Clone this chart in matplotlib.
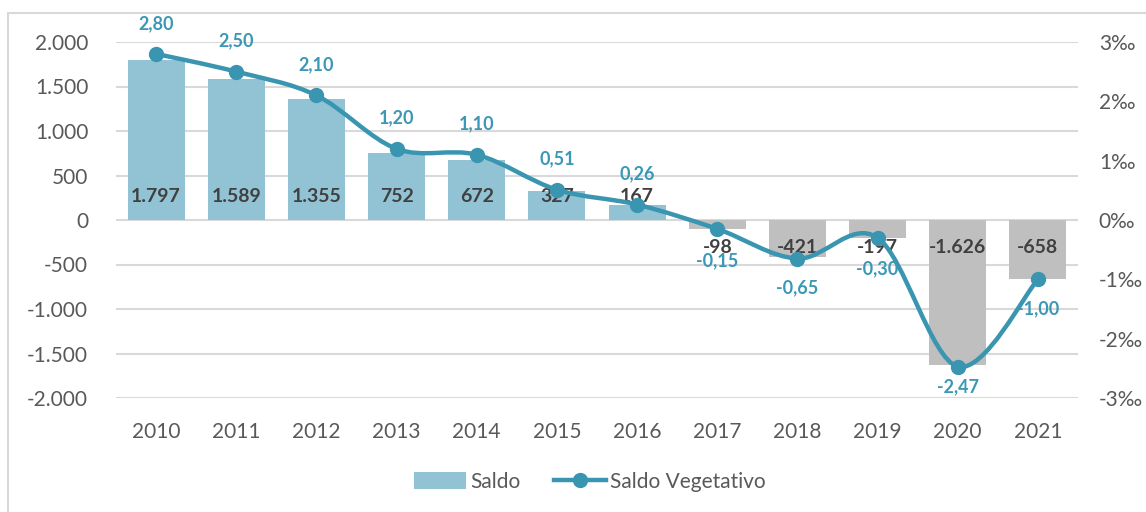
import matplotlib
matplotlib.use("Agg")
import matplotlib.pyplot as plt
import numpy as np
from matplotlib.path import Path
from matplotlib.patches import PathPatch, Rectangle
from matplotlib.lines import Line2D
from matplotlib.patches import Patch

plt.rcParams['font.family'] = ['Lato', 'DejaVu Sans']

years = ['2010', '2011', '2012', '2013', '2014', '2015', '2016',
         '2017', '2018', '2019', '2020', '2021']
saldo = [1797, 1589, 1355, 752, 672, 327, 167, -98, -421, -197, -1626, -658]
saldo_labels = ['1.797', '1.589', '1.355', '752', '672', '327', '167',
                '-98', '-421', '-197', '-1.626', '-658']
veget = [2.80, 2.50, 2.10, 1.20, 1.10, 0.51, 0.26, -0.15, -0.65, -0.30, -2.47, -1.00]
veget_labels = ['2,80', '2,50', '2,10', '1,20', '1,10', '0,51', '0,26',
                '-0,15', '-0,65', '-0,30', '-2,47', '-1,00']
left_ticks = [-2000, -1500, -1000, -500, 0, 500, 1000, 1500, 2000]
left_tick_labels = ['-2.000', '-1.500', '-1.000', '-500', '0', '500', '1.000', '1.500', '2.000']
right_ticks = [-3, -2, -1, 0, 1, 2, 3]
right_tick_labels = ['-3‰', '-2‰', '-1‰', '0‰', '1‰', '2‰', '3‰']

POS_COL = '#92C3D4'
NEG_COL = '#BFBFBF'
LINE_COL = '#3A95B0'
LBL_COL = '#3A97B5'
TXT = '#595959'

W, H = 1146, 512
fig = plt.figure(figsize=(W / 100, H / 100), dpi=100)
fig.patch.set_facecolor('white')

# outer frame
fig.patches.append(Rectangle((8 / W, -0.05), 1.2, 1 - 13 / H + 0.05,
                             transform=fig.transFigure, fill=False,
                             edgecolor='#D9D9D9', linewidth=1.5))

ax = fig.add_axes([116 / W, 1 - 398 / H, (1078 - 116) / W, (398 - 42) / H])
x = np.arange(len(years))
colors = [POS_COL if v >= 0 else NEG_COL for v in saldo]
ax.bar(x, saldo, width=0.71, color=colors, zorder=2)
ax.set_ylim(-2000, 2000)
ax.set_xlim(-0.5, len(years) - 0.5)
ax.set_yticks(left_ticks)
ax.set_yticklabels(left_tick_labels)
ax.set_xticks(x)
ax.set_xticklabels(years)
ax.grid(axis='y', color='#D9D9D9', linewidth=1.5, zorder=0)
ax.set_axisbelow(True)
for s in ax.spines.values():
    s.set_visible(False)
ax.tick_params(axis='both', length=0, labelsize=15, colors=TXT)
ax.tick_params(axis='y', pad=20)
ax.tick_params(axis='x', pad=17)

for xi, v, lab in zip(x, saldo, saldo_labels):
    off = 17 if v >= 0 else -19.5
    ax.annotate(lab, (xi, 0), xytext=(0, off), textcoords='offset points',
                ha='center', va='center', fontsize=14, fontweight='bold',
                color='#404040', zorder=3)

ax2 = ax.twinx()
ax2.set_ylim(-3, 3)
ax2.set_yticks(right_ticks)
ax2.set_yticklabels(right_tick_labels)
for s in ax2.spines.values():
    s.set_visible(False)
ax2.tick_params(axis='y', length=0, labelsize=15, colors=TXT, pad=15)

# smoothed line (Excel-style Bezier through the data points)
pts = np.column_stack([x, veget]).astype(float)
n = len(pts)
verts = [pts[0]]
codes = [Path.MOVETO]
for i in range(n - 1):
    p0 = pts[i - 1] if i > 0 else pts[i]
    p1 = pts[i]
    p2 = pts[i + 1]
    p3 = pts[i + 2] if i + 2 < n else pts[i + 1]
    c1 = p1 + (p2 - p0) / 6.0
    c2 = p2 - (p3 - p1) / 6.0
    verts += [c1, c2, p2]
    codes += [Path.CURVE4] * 3
path = Path(np.array(verts), codes)
ax2.add_patch(PathPatch(path, fill=False, edgecolor=LINE_COL, linewidth=3.2,
                        capstyle='round', joinstyle='round', zorder=4))
ax2.plot(x, veget, linestyle='none', marker='o', markersize=10,
         color=LINE_COL, zorder=5)

offsets = [22, 22, 22, 22, 22, 22, 22, -23, -21, -22, -14.5, -21.5]
for xi, v, lab, off in zip(x, veget, veget_labels, offsets):
    ax2.annotate(lab, (xi, v), xytext=(0, off), textcoords='offset points',
                 ha='center', va='center', fontsize=13, fontweight='bold',
                 color=LBL_COL, zorder=6)

handles = [Patch(facecolor=POS_COL, edgecolor='none'),
           Line2D([0], [0], color=LINE_COL, linewidth=3.2, marker='o',
                  markersize=10)]
leg = fig.legend(handles, ['Saldo', 'Saldo Vegetativo'], loc='center',
                 bbox_to_anchor=(590 / W, 1 - 482 / H), ncol=2, frameon=False,
                 fontsize=15, handlelength=2.5, handleheight=0.9,
                 columnspacing=1.6, handletextpad=0.2)
for t in leg.get_texts():
    t.set_color(TXT)

fig.savefig('out.png', dpi=100, facecolor='white')
